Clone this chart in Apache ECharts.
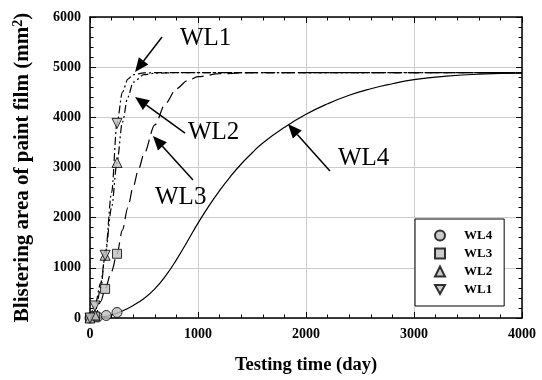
<!DOCTYPE html>
<html><head><meta charset="utf-8">
<script src="https://cdn.jsdelivr.net/npm/echarts@6/dist/echarts.min.js"></script>
<style>html,body{margin:0;padding:0;background:#fff}#c{width:542px;height:380px}</style>
</head><body><div id="c"></div>
<script>
// Measured markers
const wl4Pts = [[0,0],[70,20],[150,50],[250,110]];
const wl3Pts = [[0,0],[45,30],[140,580],[250,1280]];
const wl2Pts = [[0,0],[45,60],[140,1250],[250,3100]];
const wl1Pts = [[0,0],[45,240],[140,1250],[250,3880]];
// Fitted curves
const wl4Curve = [[0,0],[100,20],[200,60],[300,140],[400,250],[500,390],[600,580],[700,840],[800,1160],[900,1520],[1000,1890],[1100,2230],[1200,2540],[1300,2820],[1400,3070],[1500,3290],[1600,3490],[1800,3800],[2000,4060],[2200,4270],[2400,4440],[2600,4570],[2800,4670],[3000,4750],[3300,4820],[3600,4860],[4000,4880]];
const wl3Curve = [[0,0],[50,50],[100,330],[140,580],[200,930],[250,1280],[300,1750],[350,2200],[400,2620],[450,2970],[500,3270],[600,3850],[700,4280],[800,4570],[900,4730],[1000,4810],[1200,4870],[1500,4890],[4000,4890]];
const wl2Curve = [[0,0],[50,150],[100,600],[140,1250],[200,2200],[250,3100],[300,3900],[350,4400],[400,4700],[500,4850],[600,4880],[800,4890],[4000,4890]];
const wl1Curve = [[0,0],[45,240],[100,700],[140,1250],[200,2500],[250,3880],[300,4500],[350,4760],[400,4850],[500,4885],[600,4890],[4000,4890]];
const names = ['WL4','WL3','WL2','WL1'];
const xTicks = [0,1000,2000,3000,4000];
const yTicks = [0,1000,2000,3000,4000,5000,6000];
// Annotations: [label, labelX, labelY, arrowStartX, arrowStartY, tipX, tipY] in data units
const notes = [
  ['WL1', 833, 5580, 667, 5600, 417, 4903],
  ['WL2', 907, 3707, 880, 3687, 417, 4405],
  ['WL3', 602, 2412, 954, 2750, 583, 3628],
  ['WL4', 2296, 3189, 2222, 2930, 1833, 3867]
];

const serif = 'Liberation Serif, Times New Roman, serif';
const chart = echarts.init(document.getElementById('c'), null, {renderer:'canvas'});
const mk = {color:'#bdbdbd', borderColor:'#000', borderWidth:1};
const axisBase = (pos, isX, main) => ({
  type:'value', position:pos, min: isX?xTicks[0]:yTicks[0], max: isX?xTicks[xTicks.length-1]:yTicks[yTicks.length-1],
  interval:1000, gridIndex:0,
  axisLine:{show:true, onZero:false, lineStyle:{color:'#000', width:1.5}},
  axisTick:{show:true, inside:true, length:6, lineStyle:{color:'#000', width:1}},
  minorTick:{show:true, splitNumber:5, length:3.5, lineStyle:{color:'#000', width:1}},
  axisLabel:{show:main, margin:9, color:'#000', fontFamily:serif, fontWeight:'bold', fontSize:14, formatter:(v)=>String(v)},
  splitLine:{show:main, lineStyle:{color:'#cccccc', width:1}}
});
const xMain = Object.assign(axisBase('bottom', true, true), {name:'Testing time (day)', nameLocation:'middle', nameGap:38,
  nameTextStyle:{color:'#000', fontFamily:serif, fontWeight:'bold', fontSize:18.5}});
const yMain = Object.assign(axisBase('left', false, true), {name:'{a|Blistering area of paint film (mm}{s|2}{a|)}', nameLocation:'middle', nameGap:55,
  nameTextStyle:{color:'#000', fontFamily:serif, fontWeight:'bold', fontSize:21,
    rich:{a:{fontFamily:serif, fontWeight:'bold', fontSize:21, color:'#000'}, s:{fontFamily:serif, fontWeight:'bold', fontSize:14, color:'#000', verticalAlign:'top', padding:[0,0,10,0]}}}});
const xTop = axisBase('top', true, false);
const yRight = axisBase('right', false, false);

const curveStyle = (t) => ({color:'#000', width:1.2, type:t});
const series = [
  {name:'c4', type:'line', data:wl4Curve, symbol:'none', smooth:0.5, lineStyle:curveStyle('solid'), z:2, silent:true},
  {name:'c3', type:'line', data:wl3Curve, symbol:'none', smooth:0.3, smoothMonotone:'x', lineStyle:curveStyle([12,6]), z:2, silent:true},
  {name:'c2', type:'line', data:wl2Curve, symbol:'none', smooth:0.3, smoothMonotone:'x', lineStyle:curveStyle([8,3,2,3,2,3]), z:2, silent:true},
  {name:'c1', type:'line', data:wl1Curve, symbol:'none', smooth:0.3, smoothMonotone:'x', lineStyle:curveStyle([8,3,2,3]), z:2, silent:true},
  {name:'WL4', type:'scatter', data:wl4Pts, symbol:'circle', symbolSize:10, itemStyle:mk, z:3},
  {name:'WL3', type:'scatter', data:wl3Pts, symbol:'rect', symbolSize:9, itemStyle:mk, z:3},
  {name:'WL2', type:'scatter', data:wl2Pts, symbol:'triangle', symbolSize:10, itemStyle:mk, z:3},
  {name:'WL1', type:'scatter', data:wl1Pts, symbol:'path://M0,0L10,0L5,9Z', symbolSize:10, itemStyle:mk, z:3}
];

chart.setOption({
  animation:false,
  backgroundColor:'#fff',
  grid:{left:90, right:20, top:17, bottom:62},
  xAxis:[xMain, xTop],
  yAxis:[yMain, yRight],
  legend:{
    data:[{name:'WL4', icon:'circle'},{name:'WL3', icon:'rect'},{name:'WL2', icon:'triangle'},{name:'WL1', icon:'path://M0,0L10,0L5,9Z'}],
    orient:'vertical', left:415, top:219, padding:[10,12,10,19], itemGap:5, itemWidth:10, itemHeight:10,
    backgroundColor:'#fff', borderColor:'#000', borderWidth:1, borderRadius:0,
    textStyle:{color:'#000', fontFamily:serif, fontWeight:'bold', fontSize:13, lineHeight:13, padding:[0,0,0,14]},
    selectedMode:false
  },
  series:series
});

// Annotations
const g = [];
notes.forEach(n => {
  const lp = chart.convertToPixel({xAxisIndex:0, yAxisIndex:0}, [n[1], n[2]]);
  const s = chart.convertToPixel({xAxisIndex:0, yAxisIndex:0}, [n[3], n[4]]);
  const t = chart.convertToPixel({xAxisIndex:0, yAxisIndex:0}, [n[5], n[6]]);
  const dx = t[0]-s[0], dy = t[1]-s[1];
  const L = Math.sqrt(dx*dx+dy*dy), ux = dx/L, uy = dy/L;
  const hl = 14, hw = 6;
  const bx = t[0]-ux*hl, by = t[1]-uy*hl;
  g.push({type:'line', shape:{x1:s[0], y1:s[1], x2:bx, y2:by}, style:{stroke:'#000', lineWidth:1.5}, z:10});
  g.push({type:'polygon', shape:{points:[[t[0],t[1]],[bx-uy*hw, by+ux*hw],[bx+uy*hw, by-ux*hw]]}, style:{fill:'#000'}, z:10});
  g.push({type:'text', x:lp[0], y:lp[1], style:{text:n[0], fill:'#000', font:'25px ' + serif, textVerticalAlign:'middle', textAlign:'left'}, z:10});
});
chart.setOption({graphic:g});
</script>
</body></html>
